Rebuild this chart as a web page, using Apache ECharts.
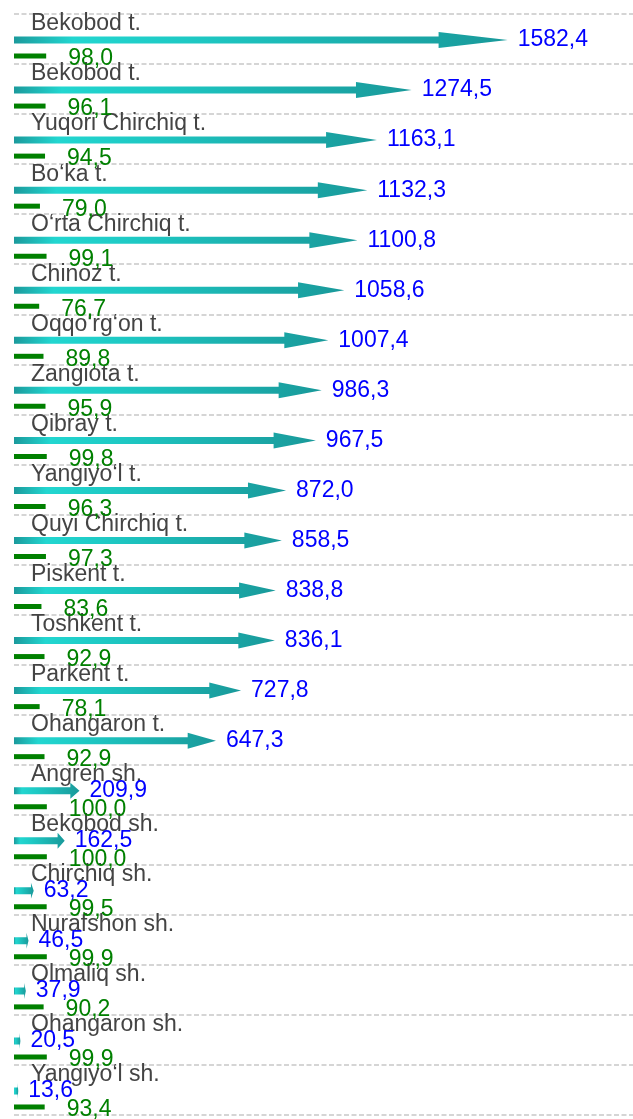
<!DOCTYPE html>
<html>
<head>
<meta charset="utf-8">
<script src="https://cdn.jsdelivr.net/npm/echarts@6/dist/echarts.min.js"></script>
<style>
  html, body { margin: 0; padding: 0; background: #fff; }
  #chart { width: 633px; height: 1119px; }
</style>
</head>
<body>
<div id="chart"></div>
<script>
// hududlar (yuqoridan pastga)
const categories = [
  'Bekobod t.', 'Bekobod t.', 'Yuqori Chirchiq t.', 'Bo‘ka t.', 'O‘rta Chirchiq t.',
  'Chinoz t.', 'Oqqo‘rg‘on t.', 'Zangiota t.', 'Qibray t.', 'Yangiyo‘l t.',
  'Quyi Chirchiq t.', 'Piskent t.', 'Toshkent t.', 'Parkent t.', 'Ohangaron t.',
  'Angren sh.', 'Bekobod sh.', 'Chirchiq sh.', 'Nurafshon sh.', 'Olmaliq sh.',
  'Ohangaron sh.', 'Yangiyo‘l sh.'
]

// ko'k strelkalar
const arrowValues = [
  1582.4, 1274.5, 1163.1, 1132.3, 1100.8, 1058.6, 1007.4, 986.3, 967.5, 872.0,
  858.5, 838.8, 836.1, 727.8, 647.3, 209.9, 162.5, 63.2, 46.5, 37.9, 20.5, 13.6
]

// yashil chiziqlar
const greenValues = [
  98.0, 96.1, 94.5, 79.0, 99.1, 76.7, 89.8, 95.9, 99.8, 96.3,
  97.3, 83.6, 92.9, 78.1, 92.9, 100.0, 100.0, 99.5, 99.9, 90.2, 99.9, 93.4
]

const FONT = '"Liberation Sans", Arial, sans-serif'
const fmt = v => v.toFixed(1).replace('.', ',')

// strelka shakli: tana + uchburchak uch
const arrowPath = 'path://M0,4.5 L86,4.5 L86,0 L100,8 L86,16 L86,11.5 L0,11.5 Z'

const chart = echarts.init(document.getElementById('chart'))

const option = {
  animation: false,
  grid: { left: 14, top: 14, bottom: 4, width: 624, outerBoundsMode: 'none' },
  xAxis: [
    { type: 'value', min: 0, max: 2000, show: false },
    { type: 'value', min: 0, max: 1900, show: false }
  ],
  yAxis: {
    type: 'category',
    inverse: true,
    data: categories,
    axisLine: { show: false },
    axisTick: { show: false },
    axisLabel: {
      inside: true,
      margin: 17,
      verticalAlign: 'bottom',
      lineHeight: 30,
      color: '#444',
      fontSize: 23,
      fontFamily: FONT
    },
    splitLine: {
      show: true,
      lineStyle: { color: '#c8c8c8', width: 1.5, type: [5, 2.5] }
    }
  },
  series: [
    {
      type: 'pictorialBar',
      xAxisIndex: 0,
      symbol: arrowPath,
      symbolSize: ['100%', 16],
      symbolOffset: [0, 1],
      data: arrowValues,
      itemStyle: {
        color: new echarts.graphic.LinearGradient(0, 0, 1, 0, [
          { offset: 0, color: '#1b9a9c' },
          { offset: 0.12, color: '#22d6d0' },
          { offset: 0.35, color: '#1ec9c4' },
          { offset: 1, color: '#19999a' }
        ])
      },
      label: {
        show: true,
        position: 'right',
        distance: 10,
        offset: [0, 1],
        color: '#0000ff',
        fontSize: 23,
        fontFamily: FONT,
        formatter: p => fmt(p.value)
      }
    },
    {
      type: 'pictorialBar',
      xAxisIndex: 1,
      symbol: 'rect',
      symbolSize: ['100%', 5],
      symbolOffset: [0, 17],
      data: greenValues,
      itemStyle: { color: '#008000' },
      label: {
        show: true,
        position: 'right',
        distance: 22,
        offset: [0, 20],
        color: '#008000',
        fontSize: 23,
        fontFamily: FONT,
        formatter: p => fmt(p.value)
      }
    }
  ]
}

chart.setOption(option)
</script>
</body>
</html>
